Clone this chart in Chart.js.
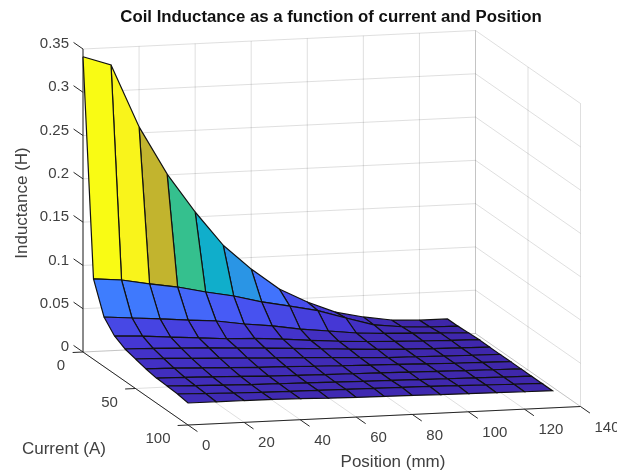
<!DOCTYPE html>
<html>
<head>
<meta charset="utf-8">
<title>Coil Inductance</title>
<script src="https://cdn.jsdelivr.net/npm/chart.js@4"></script>
<style>
    html, body { margin: 0; padding: 0; background: #fff; }
    canvas { display: block; filter: blur(0.4px); }
</style>
</head>
<body>
<canvas id="surfaceChart" width="617" height="472"></canvas>
<script>
const positions = [0, 10, 20, 30, 40, 50, 60, 70, 80, 90, 100, 110, 120, 130];
const currents = [0, 10, 20, 30, 40, 50, 60, 70, 80, 90, 100];

// one row per current, one value per position
const inductance = [
    [0.341, 0.330, 0.257, 0.201, 0.1556, 0.1157, 0.0867, 0.0621, 0.0456, 0.0323, 0.0252, 0.0202, 0.0185, 0.0183],
    [0.0928, 0.0901, 0.0840, 0.0789, 0.0716, 0.0655, 0.0571, 0.0508, 0.0441, 0.0340, 0.0245, 0.0208, 0.0190, 0.0184],
    [0.0573, 0.0546, 0.0520, 0.0492, 0.0466, 0.0416, 0.0378, 0.0327, 0.0289, 0.0251, 0.0230, 0.0218, 0.0205, 0.0192],
    [0.0438, 0.0420, 0.0395, 0.0370, 0.0345, 0.0335, 0.0310, 0.0280, 0.0255, 0.0237, 0.0222, 0.0212, 0.0204, 0.0198],
    [0.0372, 0.0365, 0.0352, 0.0338, 0.0322, 0.0305, 0.0288, 0.0268, 0.0248, 0.0230, 0.0217, 0.0208, 0.0201, 0.0196],
    [0.0341, 0.0332, 0.0318, 0.0305, 0.0290, 0.0278, 0.0265, 0.0250, 0.0235, 0.0220, 0.0214, 0.0207, 0.0201, 0.0196],
    [0.0310, 0.0304, 0.0292, 0.0280, 0.0268, 0.0260, 0.0250, 0.0240, 0.0232, 0.0225, 0.0216, 0.0208, 0.0202, 0.0197],
    [0.0289, 0.0283, 0.0272, 0.0262, 0.0251, 0.0245, 0.0238, 0.0232, 0.0226, 0.0221, 0.0214, 0.0208, 0.0202, 0.0197],
    [0.0282, 0.0272, 0.0262, 0.0252, 0.0247, 0.0241, 0.0235, 0.0229, 0.0224, 0.0218, 0.0213, 0.0207, 0.0202, 0.0197],
    [0.0274, 0.0264, 0.0255, 0.0247, 0.0243, 0.0240, 0.0236, 0.0232, 0.0229, 0.0224, 0.0218, 0.0210, 0.0203, 0.0197],
    [0.0254, 0.0253, 0.0252, 0.0250, 0.0243, 0.0234, 0.0227, 0.0223, 0.0219, 0.0214, 0.0209, 0.0205, 0.0201, 0.0198]
];

const positionTicks = [0, 20, 40, 60, 80, 100, 120, 140];
const currentTicks = [0, 50, 100];
const inductanceTicks = [0, 0.05, 0.1, 0.15, 0.2, 0.25, 0.3, 0.35];
const inductanceTickLabels = ['0', '0.05', '0.1', '0.15', '0.2', '0.25', '0.3', '0.35'];

const P_MAX = 140, C_MAX = 100, Z_MAX = 0.35, Z_LOW = 0.0183, Z_TOP = 0.341;
const GRID = 'rgba(38,38,38,0.15)';
const AXIS = '#262626';
const TEXT = '#404040';

// fixed MATLAB style view, no visible perspective so it is just affine
function project(p, c, z) {
    return {
        x: 83 + 392.5 * p / P_MAX + 105 * c / C_MAX,
        y: 352 - 18.5 * p / P_MAX + 73 * c / C_MAX - 303 * z / Z_MAX
    };
}

const parula = [
    [0, 62, 38, 168], [0.08, 69, 55, 213], [0.16, 72, 88, 245], [0.23, 62, 125, 254],
    [0.30, 42, 149, 229], [0.425, 16, 174, 203], [0.566, 53, 192, 142], [0.74, 194, 180, 46],
    [0.85, 250, 195, 50], [0.95, 249, 240, 30], [1, 249, 251, 20]
];

function colorFor(z) {
    const t = Math.min(Math.max((z - Z_LOW) / (Z_TOP - Z_LOW), 0), 1);
    for (let i = 1; i < parula.length; i++) {
        if (t <= parula[i][0]) {
            const a = parula[i - 1], b = parula[i];
            const f = (t - a[0]) / (b[0] - a[0]);
            return `rgb(${[1, 2, 3].map(k => Math.round(a[k] + (b[k] - a[k]) * f)).join(',')})`;
        }
    }
    return 'rgb(249,251,20)';
}

function line(points, color) {
    return { data: points, borderColor: color, borderWidth: 1, showLine: true, pointRadius: 0, fill: false, clip: false };
}

const farToNear = [];

// walls and floor
inductanceTicks.forEach(z => {
    farToNear.push(line([project(0, 0, z), project(P_MAX, 0, z), project(P_MAX, C_MAX, z)], GRID));
});
positionTicks.forEach(p => {
    farToNear.push(line([project(p, C_MAX, 0), project(p, 0, 0), project(p, 0, Z_MAX)], GRID));
});
currentTicks.forEach(c => {
    farToNear.push(line([project(0, c, 0), project(P_MAX, c, 0), project(P_MAX, c, Z_MAX)], GRID));
});

// axes and ticks
farToNear.push(line([project(0, 0, 0), project(0, 0, Z_MAX)], AXIS));
farToNear.push(line([project(0, 0, 0), project(0, C_MAX, 0)], AXIS));
farToNear.push(line([project(0, C_MAX, 0), project(P_MAX, C_MAX, 0)], AXIS));
inductanceTicks.forEach(z => farToNear.push(line([project(0, 0, z), project(0, -9, z)], AXIS)));
currentTicks.forEach(c => farToNear.push(line([project(0, c, 0), project(-3.7, c, 0)], AXIS)));
positionTicks.forEach(p => farToNear.push(line([project(p, C_MAX, 0), project(p, C_MAX + 9, 0)], AXIS)));

// surface, back rows first and high positions first
for (let i = 0; i < currents.length - 1; i++) {
    for (let j = positions.length - 2; j >= 0; j--) {
        const cell = [
            project(positions[j], currents[i], inductance[i][j]),
            project(positions[j + 1], currents[i], inductance[i][j + 1]),
            project(positions[j + 1], currents[i + 1], inductance[i + 1][j + 1]),
            project(positions[j], currents[i + 1], inductance[i + 1][j]),
            project(positions[j], currents[i], inductance[i][j])
        ];
        farToNear.push({
            data: cell,
            borderColor: '#111',
            borderWidth: 1.2,
            backgroundColor: colorFor(inductance[i][j]),
            showLine: true,
            fill: 'shape',
            pointRadius: 0,
            clip: false
        });
    }
}

const textLayer = {
    id: 'textLayer',
    afterDraw(chart) {
        const { ctx, scales: { x, y } } = chart;
        const put = (text, px, py, font, align, color) => {
            ctx.font = font;
            ctx.textAlign = align;
            ctx.textBaseline = 'middle';
            ctx.fillStyle = color;
            ctx.fillText(text, px, py);
        };
        const tickFont = '15px "Liberation Sans", Arial, sans-serif';
        const labelFont = '17px "Liberation Sans", Arial, sans-serif';
        const at = (p, c, z) => {
            const pt = project(p, c, z);
            return [x.getPixelForValue(pt.x), y.getPixelForValue(pt.y)];
        };
        ctx.save();
        inductanceTicks.forEach((z, i) => {
            const [px, py] = at(0, 0, z);
            put(inductanceTickLabels[i], px - 14, py - 5, tickFont, 'right', TEXT);
        });
        currentTicks.forEach(c => {
            const [px, py] = at(0, c, 0);
            put(String(c), px - 22 - c * 0.08, py + 14, tickFont, 'center', TEXT);
        });
        positionTicks.forEach(p => {
            const [px, py] = at(p, C_MAX, 0);
            put(String(p), px + 14, py + 21, tickFont, 'left', TEXT);
        });
        put('Coil Inductance as a function of current and Position', x.getPixelForValue(331), y.getPixelForValue(17), 'bold 16.8px "Liberation Sans", Arial, sans-serif', 'center', '#111');
        put('Position (mm)', x.getPixelForValue(393), y.getPixelForValue(462), labelFont, 'center', TEXT);
        put('Current (A)', x.getPixelForValue(64), y.getPixelForValue(449), labelFont, 'center', TEXT);
        ctx.translate(x.getPixelForValue(22), y.getPixelForValue(203));
        ctx.rotate(-Math.PI / 2);
        put('Inductance (H)', 0, 0, labelFont, 'center', TEXT);
        ctx.restore();
    }
};

new Chart(document.getElementById('surfaceChart'), {
    type: 'scatter',
    data: { datasets: farToNear.reverse() },
    options: {
        responsive: false,
        animation: false,
        events: [],
        layout: { padding: 0 },
        plugins: { legend: { display: false }, tooltip: { enabled: false }, title: { display: false } },
        scales: {
            x: { type: 'linear', min: 0, max: 617, display: false },
            y: { type: 'linear', min: 0, max: 472, reverse: true, display: false }
        }
    },
    plugins: [textLayer]
});
</script>
</body>
</html>
